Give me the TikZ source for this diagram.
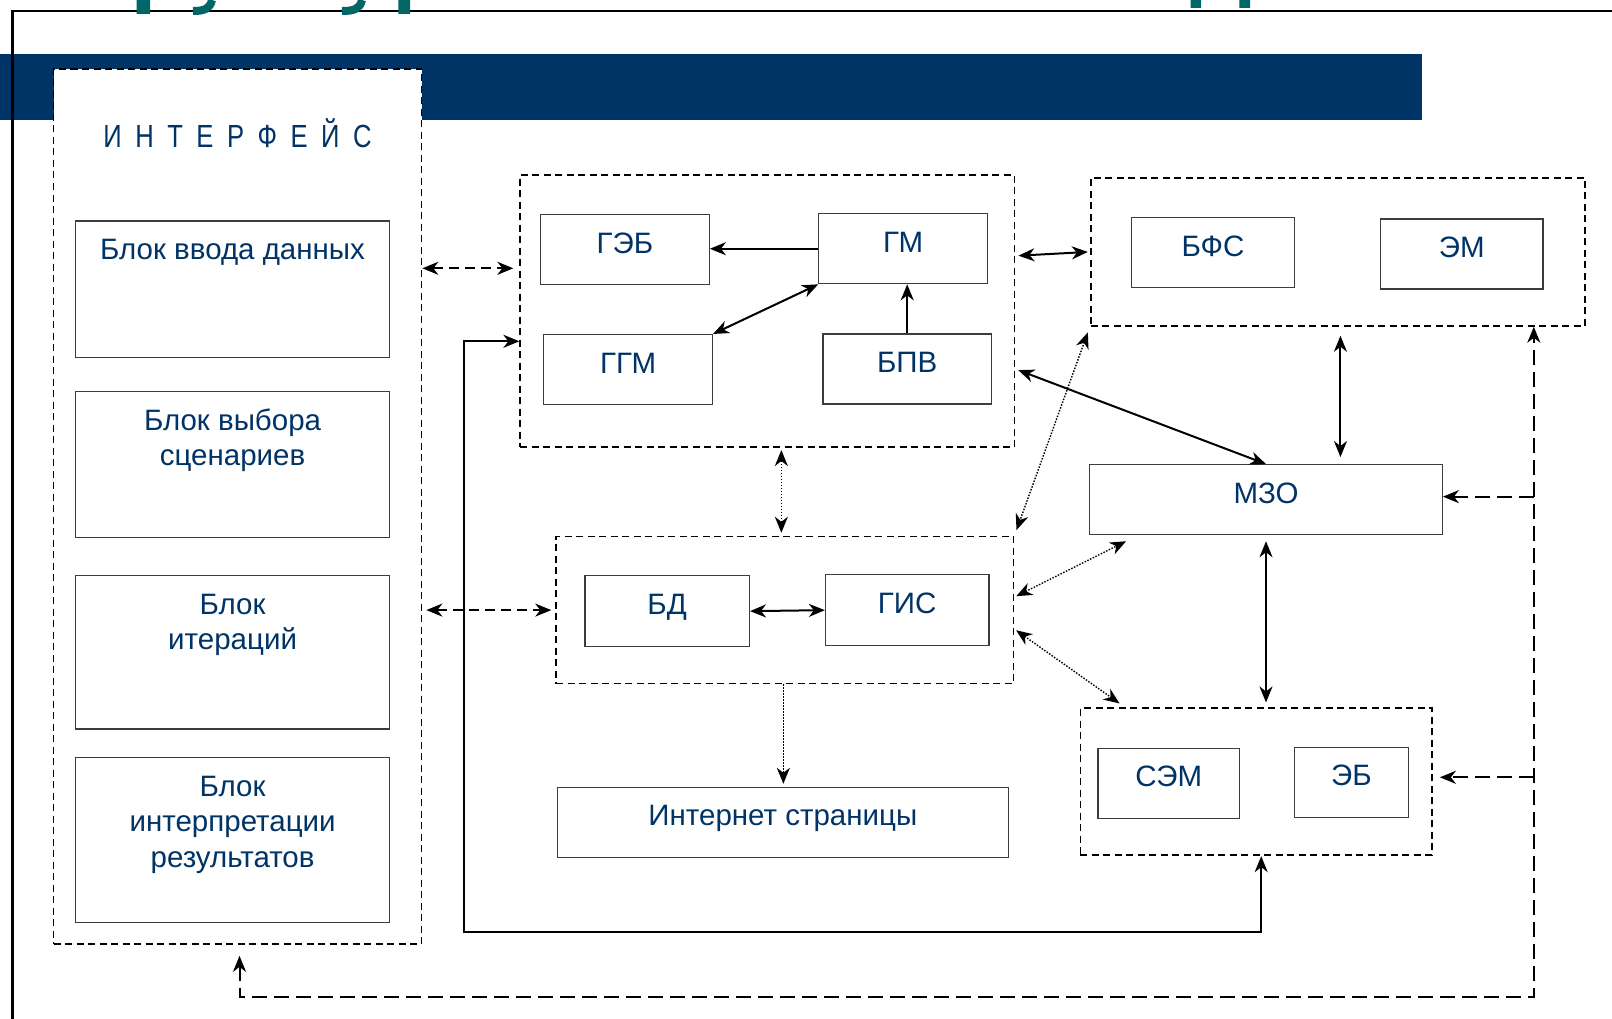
\documentclass[tikz,border=0pt]{standalone}
\usepackage{fontspec}
\setmainfont{Liberation Sans}
\newfontfamily\narrowsans[FakeStretch=0.8]{Liberation Sans}
\usetikzlibrary{arrows.meta, positioning, calc}

\definecolor{navy}{RGB}{0,51,102}
\definecolor{titleteal}{RGB}{0,102,102}
\definecolor{boxgray}{RGB}{60,60,60}

\begin{document}
\begin{tikzpicture}[
    x=1pt, y=-1pt,
    blk/.style={draw=boxgray, line width=1.2pt, inner sep=0pt, text height=38.5pt, align=center, text=navy, font=\fontsize{29.5}{35.5}\selectfont},
    grp/.style={draw, line width=1.7pt, dash pattern=on 7pt off 4.5pt, inner sep=0pt},
    tip/.tip={Stealth[length=16pt, width=13pt, inset=5pt]},
    arr/.style={-tip, line width=2pt},
    dblarr/.style={tip-tip, line width=2pt},
    dotarr/.style={dblarr, line width=1.4pt, dash pattern=on 1.5pt off 1.5pt},
    dasharr/.style={dblarr, dash pattern=on 10pt off 6pt},
    fbline/.style={line width=2pt, dash pattern=on 15pt off 7pt}
]
    \useasboundingbox (0,0) rectangle (1612,1019);

    % Slide background
    \fill[navy] (0,54.5) rectangle (1422,120);
    \draw[line width=2.4pt] (12.3,1019) -- (12.3,11.3) -- (1612,11.3);
    \fill[titleteal] (136.7,0) rectangle (150,14) (398.3,0) rectangle (410,14)
        (1190.7,0) rectangle (1201,8) (1239.3,0) rectangle (1250,8);
    \draw[titleteal, line width=8pt] (212,0) .. controls (210,9) and (204,11) .. (193,11);
    \draw[titleteal, line width=8pt] (362,0) .. controls (360,9) and (354,11) .. (342,11);

    % Interface
    \node[grp, fill=white, minimum width=368pt, minimum height=875pt] (iface) at (237.5,506.5) {};
    \node[text=navy, font=\narrowsans\fontsize{32}{38}\selectfont] (iface_title) at (237.5,133.6)
        {И\hskip13.5pt Н\hskip13.5pt Т\hskip13.5pt Е\hskip13.5pt Р\hskip13.5pt Ф\hskip13.5pt Е\hskip13.5pt Й\hskip13.5pt С};
    \node[blk, minimum width=313.8pt, text depth=98.2pt] (vvod) at (232.6,289.35) {Блок ввода данных};
    \node[blk, minimum width=313.8pt, text height=74pt, text depth=71.9pt] (vybor) at (232.6,464.65) {Блок выбора\\сценариев};
    \node[blk, minimum width=313.8pt, text height=74pt, text depth=79.2pt] (iter) at (232.6,652.3) {Блок\\итераций};
    \node[blk, minimum width=313.8pt, text height=109.5pt, text depth=55pt] (interp) at (232.6,839.85) {Блок\\интерпретации\\результатов};

    % Generators
    \node[grp, minimum width=494.4pt, minimum height=272.4pt] (g1) at (767.4,311) {};
    \node[blk, minimum width=168.6pt, text depth=31.5pt] (geb) at (625,249.85) {ГЭБ};
    \node[blk, minimum width=168.6pt, text depth=31.5pt] (gm) at (903.1,248.75) {ГМ};
    \node[blk, minimum width=168.6pt, text depth=31.5pt] (ggm) at (628.1,369.55) {ГГМ};
    \node[blk, minimum width=168.6pt, text depth=31.5pt] (bpv) at (907.2,369.05) {БПВ};

    % Models
    \node[grp, minimum width=494.5pt, minimum height=148.1pt] (g2) at (1337.95,251.85) {};
    \node[blk, minimum width=162.5pt, text depth=31.5pt] (bfs) at (1213.05,252.85) {БФС};
    \node[blk, minimum width=162.5pt, text depth=31.5pt] (em) at (1461.8,253.95) {ЭМ};
    \node[blk, minimum width=352.6pt, text depth=31.5pt] (mzo) at (1266,499.65) {МЗО};

    % Data
    \node[grp, minimum width=457.5pt, minimum height=147pt] (g3) at (784.85,610.1) {};
    \node[blk, minimum width=164.5pt, text depth=32.4pt] (bd) at (667.15,611.15) {БД};
    \node[blk, minimum width=163.4pt, text depth=32.4pt] (gis) at (907.2,610.15) {ГИС};
    \node[blk, minimum width=451.3pt, text depth=31.5pt] (inet) at (782.85,822.4) {Интернет страницы};

    % Expert part
    \node[grp, minimum width=351.6pt, minimum height=147pt] (g4) at (1256.2,781.8) {};
    \node[blk, minimum width=141.9pt, text depth=31.5pt] (sem) at (1168.85,783.35) {СЭМ};
    \node[blk, minimum width=114.1pt, text depth=31.5pt] (eb) at (1351.35,782.35) {ЭБ};

    % Connections inside blocks
    \draw[arr] (gm.west) -- (gm.west -| geb.east);
    \draw[dblarr] (gm.south west) -- (ggm.north east);
    \draw[arr] (bpv.north) -- (bpv.north |- gm.south);
    \draw[dblarr] (bd.east) -- (gis.west);

    % Connections between blocks
    \coordinate (r1) at (0,268.3);
    \coordinate (r2) at (0,341.3);
    \coordinate (loopc) at (463.6,932.4);
    \coordinate (fb) at (1533.8,997.2);
    \draw[dasharr, shorten >=6pt] (iface.east |- r1) -- (g1.west |- r1);
    \draw[dasharr, shorten <=4pt, shorten >=4pt] (iface.east |- g3.west) -- (g3.west);
    \draw[dblarr] (g1.west |- r2) -| (loopc) -| ([xshift=5pt]g4.south);
    \draw[dblarr, shorten <=3pt, shorten >=2pt] ([yshift=-4pt]g1.east |- g2.west) -- (g2.west);
    \draw[dblarr, shorten <=9pt, shorten >=7pt] ([xshift=2.5pt]g2.south) -- ([xshift=2.5pt]g2.south |- mzo.north);
    \draw[dblarr, shorten <=3pt] (g1.east |- bpv) -- (mzo.north);
    \draw[dblarr, shorten <=6pt, shorten >=5pt] (mzo.south) -- (mzo.south |- g4.north);
    \draw[dotarr, shorten <=6pt, shorten >=6pt] (g2.south west) -- (g3.north east);
    \draw[dotarr, shorten <=2pt, shorten >=3pt] ([xshift=-3.5pt]g3.north |- g1.south) -- ([xshift=-3.5pt]g3.north);
    \draw[dotarr, shorten <=2pt] ([yshift=13pt]g3.east) -- ([xshift=37pt, yshift=-6pt]mzo.south west);
    \draw[dotarr, shorten <=2pt] ([yshift=-19pt]g3.east) -- ([xshift=40pt, yshift=4pt]g4.north west);
    \draw[dotarr, -tip, shorten >=3pt] ([xshift=-1.5pt]g3.south) -- ([xshift=-1.5pt]g3.south |- inet.north);

    % Feedback
    \draw[fbline, tip-tip, shorten <=11pt] ([xshift=2pt]iface.south) |- (fb) -- (fb |- g2.south);
    \draw[fbline, -tip] ([yshift=3pt]fb |- mzo.east) -- ([yshift=3pt]mzo.east);
    \draw[fbline, -tip, shorten >=7pt] ([yshift=4.5pt]fb |- g4.east) -- ([yshift=4.5pt]g4.east);

\end{tikzpicture}
\end{document}
